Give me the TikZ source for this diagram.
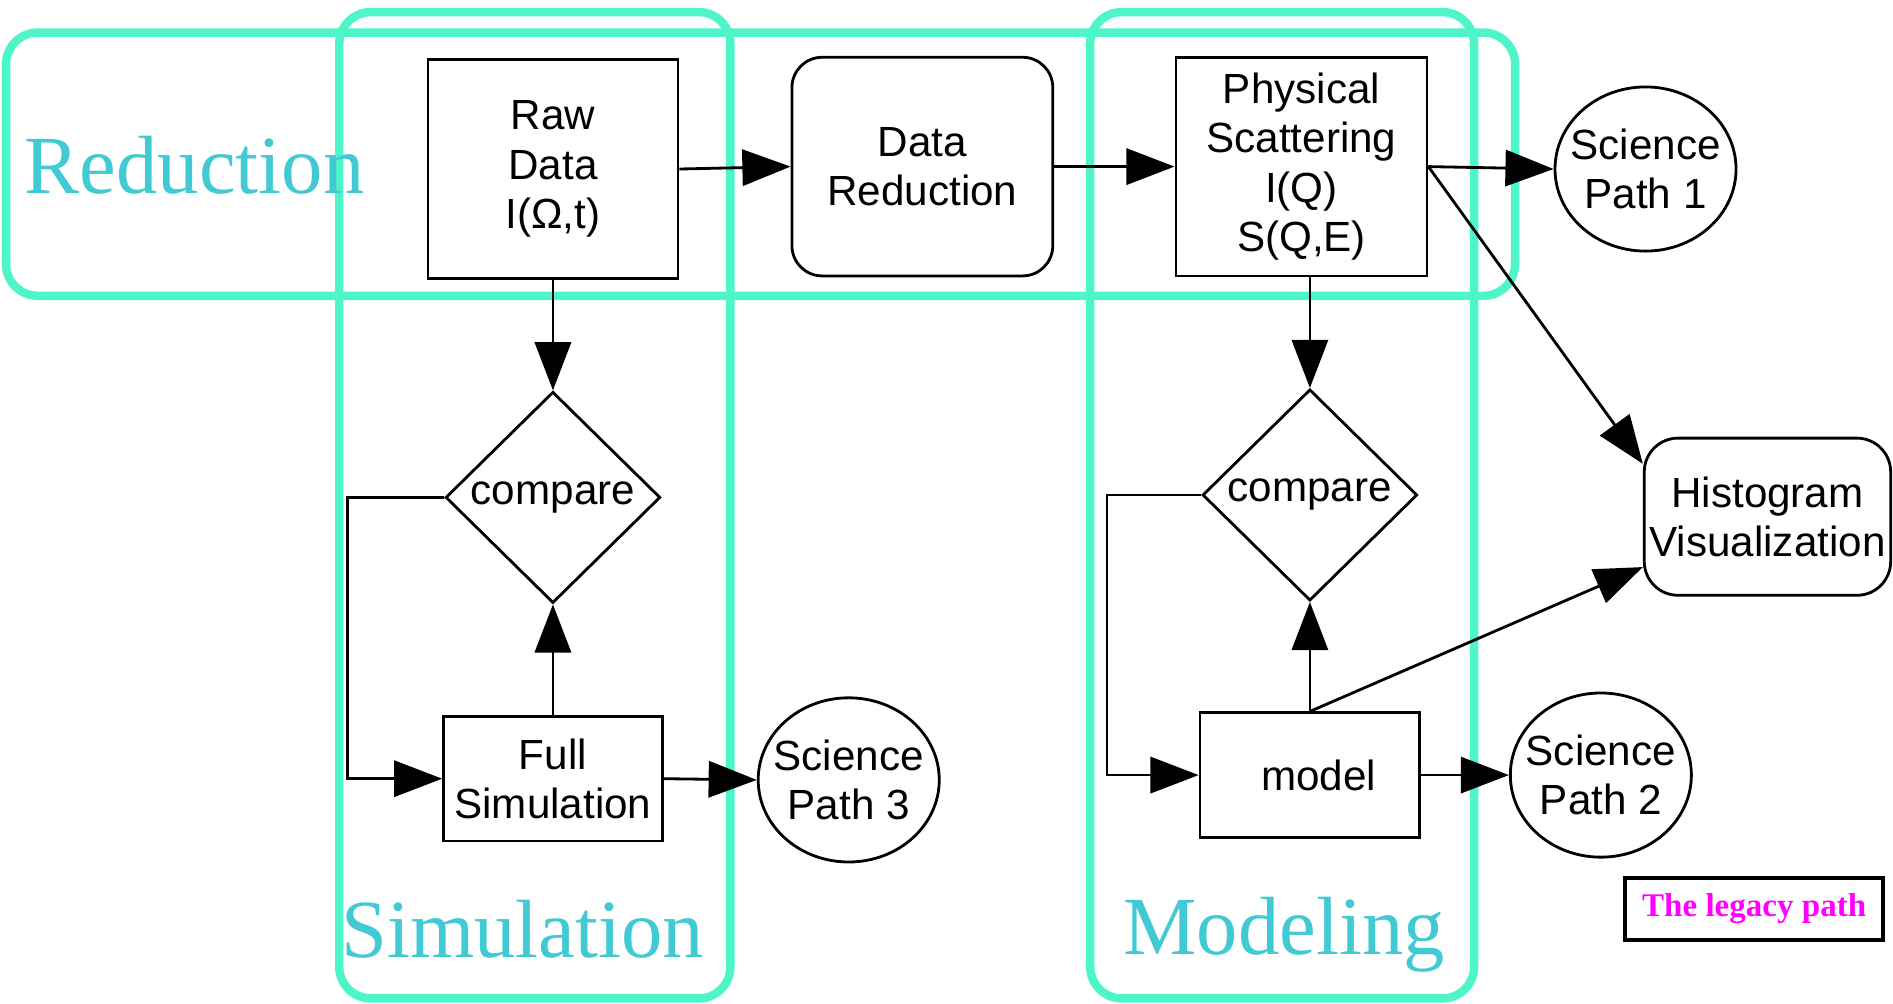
\documentclass[tikz,border=0pt]{standalone}
\usepackage{fontspec}
\setmainfont{Liberation Serif}
\setsansfont{Liberation Sans}
\usetikzlibrary{shapes.geometric,arrows.meta}

\definecolor{groupline}{RGB}{78,245,200}
\definecolor{grouptext}{RGB}{66,202,212}
\definecolor{legacypink}{RGB}{255,0,255}

\begin{document}
\begin{tikzpicture}[x=0.012073cm,y=-0.012073cm,
		box/.style={draw,line width=0.8pt,fill=white,inner sep=0pt,align=center,
		    font=\sffamily\fontsize{12}{14}\selectfont},
		rbox/.style={box,rounded corners=#1},
		decide/.style={box,diamond,minimum width=61.1pt,minimum height=60.1pt},
		leaf/.style={box,ellipse,inner xsep=-4pt,minimum width=51.5pt,minimum height=46.7pt},
		group/.style={draw=groupline,line width=2.4pt,rounded corners=9pt},
		grouplabel/.style={anchor=base west,inner sep=0pt,text=grouptext,
		    font=\fontsize{23.5}{28}\selectfont},
		arr/.style={line width=0.8pt,-{Triangle[length=13.7pt,width=10.3pt]}}]
		  \useasboundingbox (0,0) rectangle (1568,831);

		  \draw[group] (5,27) rectangle (1255,245);
		  \draw[group] (281,10) rectangle (605,827);
		  \draw[group] (903,10) rectangle (1221,827);

		  \node[grouplabel] (lred) at (20,160) {Reduction};
		  \node[grouplabel] (lsim) at (282,793) {Simulation};
		  \node[grouplabel] (lmod) at (930,791) {Modeling};

		  \node[box,minimum width=71.1pt,minimum height=62.2pt] (raw) at (458,140) {Raw\\Data\\I(Ω,t)};
		  \node[rbox=8.6pt,minimum width=74.2pt,minimum height=62.2pt] (red) at (764,138) {Data\\Reduction};
		  \node[box,minimum width=71.4pt,minimum height=62.2pt] (phys) at (1078,138) {Physical\\Scattering\\I(Q)\\S(Q,E)};
		  \node[leaf] (sp1) at (1363,140) {Science\\Path 1};

		  \node[decide] (cmp1) at (458,412) {compare};
		  \node[box,minimum width=62.2pt,minimum height=35.4pt] (sim) at (458,645) {Full\\Simulation};
		  \node[leaf] (sp3) at (703,646) {Science\\Path 3};

		  \node[decide] (cmp2) at (1085,410) {compare};
		  \node[box,minimum width=62.5pt,minimum height=35.4pt] (model) at (1085,642) {\hspace*{5pt}model};
		  \node[leaf] (sp2) at (1326,642) {Science\\Path 2};

		  \node[rbox=9.6pt,minimum width=70.1pt,minimum height=44.7pt] (hist) at (1464,428) {Histogram\\Visualization};
		  \node[draw,line width=1.15pt,minimum width=73.5pt,minimum height=17.5pt,inner sep=0pt,text=legacypink,
		      font=\bfseries\fontsize{9.4}{11}\selectfont] (legacy) at (1453,753) {The legacy path};

		  \foreach \a/\b in {raw/red, red/phys, phys/sp1, sim/sp3, model/sp2}
		    \draw[arr] (\a.east) -- (\b.west);

		  \draw[arr] (raw.south) -- (cmp1.north);
		  \draw[arr] (sim.north) -- (cmp1.south);
		  \draw[arr] (phys.south -| cmp2.north) -- (cmp2.north);
		  \draw[arr] (model.north) -- (cmp2.south);
		  \draw[arr] (cmp1.west) -- ++(-80,0) |- (sim.west);
		  \draw[arr] (cmp2.west) -- ++(-78,0) |- (model.west);
		  \draw[arr] (phys.east) -- (hist.157);
		  \draw[arr] (model.north) -- (hist.202);
		\end{tikzpicture}
\end{document}
